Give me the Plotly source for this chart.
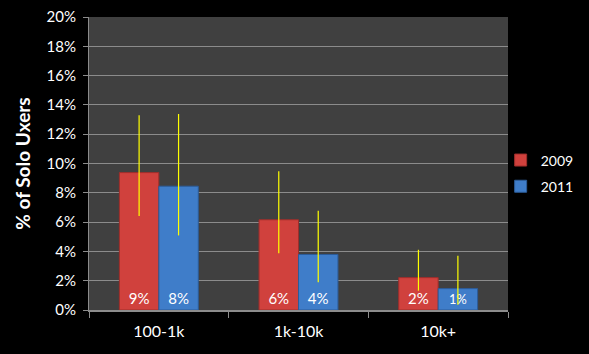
import plotly.graph_objects as go

categories = ["100-1k", "1k-10k", "10k+"]
years = ["2009", "2011"]
values_2009 = [9.38, 6.16, 2.21]
values_2011 = [8.45, 3.79, 1.46]
err_plus_2009 = [3.91, 3.31, 1.90]
err_minus_2009 = [2.97, 2.28, 0.89]
err_plus_2011 = [4.93, 2.99, 2.24]
err_minus_2011 = [3.36, 1.90, 1.10]
y_ticks = [0, 2, 4, 6, 8, 10, 12, 14, 16, 18, 20]

FONT = "Lato, 'Open Sans', sans-serif"
series = [
    (years[0], values_2009, err_plus_2009, err_minus_2009, "#D0413D", "#9E2E2B"),
    (years[1], values_2011, err_plus_2011, err_minus_2011, "#3F7DC9", "#2C5C99"),
]

fig = go.Figure()
for name, vals, ep, em, col, edge in series:
    fig.add_trace(go.Bar(
        x=categories, y=vals, name=name, legendgroup=name,
        marker=dict(color=col, line=dict(color=edge, width=1)),
        texttemplate="%{y:.0f}%", textposition="inside", insidetextanchor="start",
        textfont=dict(color="white", size=15, family=FONT),
        error_y=dict(type="data", symmetric=False, array=ep, arrayminus=em,
                     color="#FFFF00", thickness=1.2, width=0),
    ))

fig.update_layout(
    width=589, height=354,
    margin=dict(l=89, r=81, t=17, b=44, autoexpand=False),
    paper_bgcolor="black", plot_bgcolor="#404040",
    barmode="group", bargap=0.435, bargroupgap=0,
    font=dict(family=FONT, color="white"),
    showlegend=True,
    legend=dict(xref="container", yref="container", x=0.85, y=0.51,
                xanchor="left", yanchor="middle",
                font=dict(size=14, color="white", family=FONT),
                bgcolor="rgba(0,0,0,0)", tracegroupgap=5,
                itemwidth=30),
    yaxis=dict(
        range=[0, 20], tickvals=y_ticks, ticktext=[f"{v}%" for v in y_ticks],
        showgrid=True, gridcolor="#8C8C8C", gridwidth=1,
        showline=True, linecolor="#8C8C8C", linewidth=1,
        ticks="outside", ticklen=5, tickcolor="#8C8C8C",
        tickfont=dict(size=15, color="white", family=FONT),
        ticklabelstandoff=4,
        zeroline=False,
        title=dict(text="<b>% of Solo Uxers</b>", font=dict(size=19, color="white", family=FONT), standoff=10),
    ),
    xaxis=dict(
        showline=True, linecolor="#8C8C8C", linewidth=2,
        ticks="outside", tickson="boundaries", ticklen=6, tickcolor="#8C8C8C",
        tickfont=dict(size=16, color="white", family=FONT),
        ticklabelstandoff=6,
        showgrid=False,
    ),
)
fig.write_html("out.html")
